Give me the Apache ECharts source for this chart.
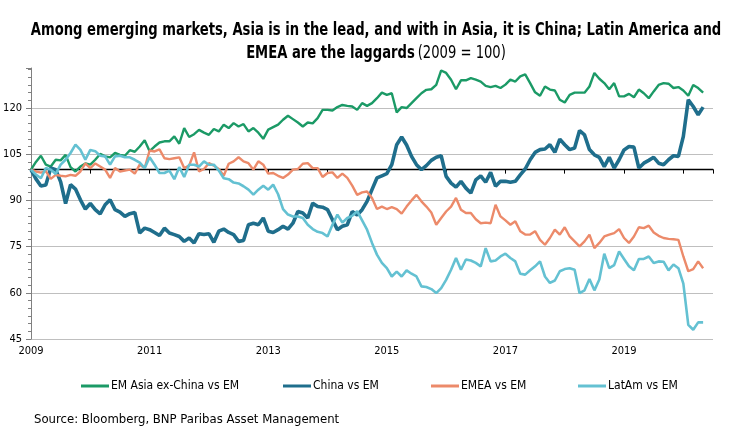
<!DOCTYPE html>
<html>
<head>
<meta charset="utf-8">
<script src="https://cdn.jsdelivr.net/npm/echarts@6/dist/echarts.min.js"></script>
<style>
  html, body { margin: 0; padding: 0; background: #fff; }
  #em-chart { width: 744px; height: 431px; }
</style>
</head>
<body>
<div id="em-chart"></div>
<script>
  // monthly, Jan 2009 .. May 2020, 2009 = 100
  const startYear = 2009;
  const seriesNames = ["EM Asia ex-China vs EM", "China vs EM", "EMEA vs EM", "LatAm vs EM"];
  const asiaExChina = [
    100, 102.5, 104.5, 101.6, 101, 103.2, 103, 104.8, 100.8, 99.4, 101, 102,
    101.6, 103.2, 105.1, 104.3, 104, 105.4, 104.8, 104.5, 106.3, 105.8, 107.5, 109.5,
    106, 107.5, 108.8, 109.2, 109.2, 110.8, 108.4, 113.5, 110.6, 111.5, 112.9, 112,
    111.3, 113.2, 112.4, 114.6, 113.5, 115.1, 114, 114.8, 112.4, 113.5, 112, 110,
    113, 113.8, 114.6, 116.2, 117.5, 116.4, 115.3, 114, 115.3, 115, 116.7, 119.4,
    119.4, 119.2, 120.3, 121, 120.7, 120.5, 119.4, 121.6, 120.7, 121.6, 123.2, 125,
    124.3, 124.8, 118.6, 120.3, 120, 121.6, 123.2, 124.8, 125.9, 126.1, 127.5, 132.2,
    131.4, 129.2, 126.1, 129, 129, 129.7, 129.2, 128.6, 127.2, 126.8, 127.2, 126.5,
    127.6, 129.2, 128.6, 130.3, 130.9, 128.1, 125.1, 124, 127, 126, 125.7, 122.7,
    121.8, 124.3, 125, 125, 125, 127, 131.4, 129.5, 128.1, 126.1, 128.1, 123.8,
    123.8, 124.6, 123.5, 126, 124.8, 123.2, 125.4, 127.5, 128.1, 127.9, 126.5, 126.8,
    125.7, 124, 127.5, 126.5, 125
  ];
  const china = [
    100, 97, 94.7, 95, 100.5, 100, 96, 89, 95.1, 93.7, 90.2, 87.2,
    89, 87, 85.6, 88.6, 90.2, 87, 86.2, 84.8, 85.7, 86.1, 79.4, 81,
    80.5, 79.6, 78.6, 81, 79.4, 78.9, 78.3, 76.7, 77.8, 76.2, 79.2, 78.9,
    79.2, 76.4, 80, 80.7, 79.6, 78.9, 76.7, 77, 82.1, 82.6, 82.1, 84.3,
    80, 79.6, 80.5, 81.6, 80.7, 82.6, 86.4, 85.9, 84.3, 89.1, 88, 87.8,
    87, 83.7, 80.5, 81.6, 82.1, 86.4, 85.3, 87, 89.7, 93.5, 97.3, 98,
    98.7, 101.6, 108.1, 110.6, 108, 104.3, 101.6, 100, 101.3, 103, 104, 104.5,
    97.8, 95.6, 94.3, 96.2, 94, 92.4, 96.7, 98, 95.9, 99.1, 94.6, 96.2,
    96.2, 95.9, 96.2, 98.3, 100.2, 103.2, 105.6, 106.5, 106.7, 108.1, 105.6, 109.9,
    108.1, 106.5, 107, 112.7, 111.3, 106.5, 104.8, 104, 101, 104, 100.5, 103.2,
    106.4, 107.5, 107.3, 100.5, 102.1, 103, 104, 102.1, 101.6, 103.2, 104.5, 104.3,
    110.8, 122.7, 120.5, 117.8, 120.3
  ];
  const emea = [
    100, 99.4, 99, 99.5, 97, 98.3, 98, 97.8, 98.3, 98, 99.4, 102,
    100.5, 102, 101, 100, 97.3, 100.5, 99.4, 99.7, 100, 98.7, 101.6, 100.5,
    106.2, 105.9, 106.6, 103.7, 103.4, 103.7, 104, 100.5, 101.3, 105.6, 99.4, 100.2,
    102.1, 101.3, 100.2, 98, 101.9, 102.7, 104, 102.7, 102.1, 100, 102.7, 101.6,
    98.7, 98.9, 98, 97.3, 98.4, 100, 100.2, 101.9, 102.1, 100.5, 100.5, 97.6,
    98.9, 99.1, 97.3, 98.7, 97.3, 94.8, 91.8, 92.6, 92.9, 90.8, 87.2, 88,
    87.2, 87.8, 87.2, 85.7, 88, 90, 91.8, 89.7, 88, 86.1, 82.1, 84.3,
    86.4, 88, 90.8, 87, 85.9, 85.9, 83.9, 82.6, 82.8, 82.6, 88.6, 84.8,
    83.5, 82.1, 83.2, 80, 78.9, 78.9, 80, 77.2, 75.6, 77.8, 80.5, 78.9,
    81.3, 78.3, 76.7, 75.1, 76.7, 78.9, 74.5, 76.2, 78.3, 78.9, 79.4, 80.7,
    77.8, 76.2, 78.3, 81.3, 81, 81.8, 79.6, 78.5, 77.8, 77.5, 77.4, 77.2,
    71.8, 67, 67.7, 70.2, 68
  ];
  const latam = [
    100, 98.4, 97.2, 100.5, 100, 98.6, 101.6, 103.2, 105.4, 108.1, 106.4, 103.2,
    106.4, 106, 104.5, 104.3, 101.6, 104.3, 104.5, 104, 104, 103.2, 102.3, 100.5,
    104, 101.6, 98.9, 98.9, 99.7, 96.9, 100.8, 97.6, 101.6, 101.6, 101, 102.7,
    101.6, 101.6, 99.7, 97.2, 96.9, 95.8, 95.5, 94.6, 93.5, 91.9, 93.5, 94.8,
    93.5, 95.1, 92, 87.2, 85.4, 84.8, 84.8, 84.3, 82.1, 80.7, 79.8, 79.4,
    78.3, 82.1, 85.4, 82.8, 84.3, 85, 86.5, 83.5, 80.5, 76.2, 72.4, 69.7,
    68, 65.3, 66.9, 65.3, 67.3, 66.2, 65.3, 62.1, 61.9, 61.2, 59.9, 61.5,
    64.2, 67.5, 71.3, 67.5, 70.8, 70.5, 69.7, 68.6, 74.5, 70.2, 70.5, 71.8,
    72.7, 71.3, 70.2, 66.2, 65.9, 67.3, 68.6, 70.2, 65.3, 63.2, 64, 67,
    67.7, 68, 67.5, 59.9, 60.8, 64.5, 60.8, 64.3, 72.7, 68, 69, 73.4,
    71, 68.6, 67.3, 71, 71, 71.8, 69.7, 70.2, 70.1, 67.3, 69.2, 68,
    63, 49.6, 48, 50.4, 50.4
  ];
  const yearLabels = [2009, 2011, 2013, 2015, 2017, 2019];
  const yTicks = [45, 60, 75, 90, 105, 120];
  const colors = ["#1b9a66", "#1f6e8c", "#ec8a6a", "#64c1d2"];
  const widths = [2.4, 3.6, 2.4, 2.6];
  const legendLeft = [76, 278, 426, 573];

  const font = "'Liberation Sans Narrow', 'Arial Narrow', 'DejaVu Sans Condensed', sans-serif";
  const allValues = [asiaExChina, china, emea, latam];

  // grid geometry (pixels), used to lift the 100 line axis
  const gridTop = 68, gridBottom = 92, yMin = 45, yMax = 133, baseLevel = 100;
  const plotH = 431 - gridTop - gridBottom;
  const baseOffset = -plotH * (baseLevel - yMin) / (yMax - yMin);

  function toPoints(vals) {
    return vals.map((v, i) => [startYear + i / 12, v]);
  }

  // title is squeezed horizontally to look like the narrow font of the original
  const titleRich = {
    b: { fontFamily: font, fontSize: 17, fontWeight: "bold", fill: "#000" },
    n: { fontFamily: font, fontSize: 17, fontWeight: "normal", fill: "#000" }
  };

  const chart = echarts.init(document.getElementById("em-chart"));
  chart.setOption({
    animation: false,
    textStyle: { fontFamily: font },
    legend: seriesNames.map((name, k) => ({
      data: [name],
      left: legendLeft[k],
      top: 375,
      icon: "rect",
      itemWidth: 28,
      itemHeight: 3,
      itemGap: 2,
      selectedMode: false,
      textStyle: { fontFamily: font, fontSize: 12, color: "#000", padding: [0, 0, 0, -3] }
    })),
    graphic: [
      {
        type: "text",
        x: 376,
        y: 31,
        scaleX: 0.86,
        style: {
          text: "{b|Among emerging markets, Asia is in the lead, and with in Asia, it is China; Latin America and}",
          rich: titleRich,
          align: "center",
          verticalAlign: "middle"
        }
      },
      {
        type: "text",
        x: 376,
        y: 54,
        scaleX: 0.86,
        style: {
          text: "{b|EMEA are the laggards} {n|(2009 = 100)}",
          rich: titleRich,
          align: "center",
          verticalAlign: "middle"
        }
      },
      {
        type: "text",
        left: 34,
        top: 413,
        style: { text: "Source: Bloomberg, BNP Paribas Asset Management", font: "13px " + font, fill: "#000" }
      }
    ],
    grid: { left: 31, right: 31, top: gridTop, bottom: gridBottom },
    xAxis: [
      {
        type: "value",
        min: startYear,
        max: 2020.5,
        interval: 1,
        axisLine: { show: false },
        axisTick: { show: false },
        splitLine: { show: false },
        axisLabel: {
          margin: 7,
          fontSize: 11,
          color: "#000",
          fontFamily: font,
          showMaxLabel: false,
          formatter: v => (yearLabels.includes(v) ? String(v) : "")
        }
      },
      {
        type: "value",
        position: "bottom",
        offset: baseOffset,
        min: startYear,
        max: 2020.5,
        interval: 1,
        axisLine: { show: true, lineStyle: { color: "#000", width: 1.3 } },
        axisTick: { show: true, length: 4, lineStyle: { color: "#000" } },
        axisLabel: { show: false },
        splitLine: { show: false }
      }
    ],
    yAxis: {
      type: "value",
      min: yMin,
      max: yMax,
      interval: 15,
      axisLine: { show: true, lineStyle: { color: "#808080" } },
      axisTick: { show: true, length: 5, lineStyle: { color: "#808080" } },
      minorTick: { show: true, splitNumber: 6, length: 3, lineStyle: { color: "#808080" } },
      splitLine: {
        show: true,
        lineStyle: { color: ["#bfbfbf", "#bfbfbf", "#bfbfbf", "#bfbfbf", "#bfbfbf", "#bfbfbf", "rgba(0,0,0,0)"], width: 1 }
      },
      axisLabel: {
        margin: 9,
        fontSize: 11,
        color: "#000",
        fontFamily: font,
        formatter: v => (yTicks.includes(v) ? String(v) : "")
      }
    },
    series: seriesNames.map((name, k) => ({
      name: name,
      type: "line",
      xAxisIndex: 0,
      showSymbol: false,
      symbol: "none",
      data: toPoints(allValues[k]),
      lineStyle: { color: colors[k], width: widths[k] },
      itemStyle: { color: colors[k] }
    }))
  });
</script>
</body>
</html>
